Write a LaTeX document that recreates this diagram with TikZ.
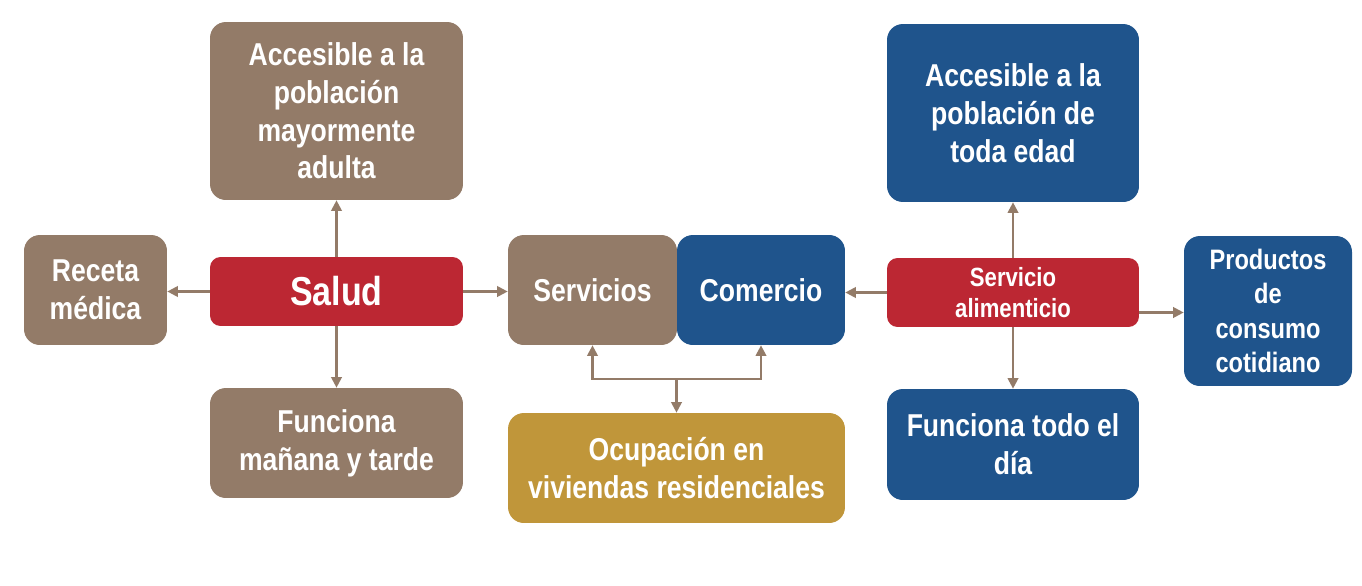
\documentclass[tikz,border=0pt]{standalone}
\usepackage{fontspec}
\setmainfont{Liberation Sans}[FakeStretch=0.84]
\usetikzlibrary{arrows.meta,positioning,calc}
\definecolor{cbrown}{HTML}{937B68}
\definecolor{cred}{HTML}{BC2733}
\definecolor{cblue}{HTML}{1F548C}
\definecolor{cgold}{HTML}{C0963A}
\tikzset{
  box/.style={rounded corners=9pt, text=white, font=\bfseries\fontsize{18}{21.5}\selectfont, align=center, inner sep=2pt},
  arr/.style={-{Triangle[length=6pt, width=6pt]}, cbrown, line width=1.2pt},
}

\begin{document}
\begin{tikzpicture}[x=0.02cm, y=-0.02cm]
\useasboundingbox (0,0) rectangle (1362,585);
% salud side
\node[box, fill=cbrown, minimum width=5.06cm, minimum height=3.56cm] (accA) at (336.5,111) {Accesible a la\\ población\\ mayormente\\ adulta};
\node[box, fill=cbrown, minimum width=2.86cm, minimum height=2.2cm] (receta) at (95.5,290) {Receta\\ médica};
\node[box, fill=cred, rounded corners=6pt, minimum width=5.06cm, minimum height=1.38cm, font=\bfseries\fontsize{23}{27}\selectfont] (salud) at (336.5,291.5) {Salud};
\node[box, fill=cbrown, minimum width=5.06cm, minimum height=2.2cm] (funcA) at (336.5,443) {Funciona\\ mañana y tarde};
% center
\node[box, fill=cbrown, minimum width=3.38cm, minimum height=2.2cm] (serv) at (592.5,290) {Servicios};
\node[box, fill=cblue, minimum width=3.36cm, minimum height=2.2cm] (comer) at (761,290) {Comercio};
\node[box, fill=cgold, minimum width=6.74cm, minimum height=2.2cm] (ocup) at (676.5,468) {Ocupación en\\ viviendas residenciales};
% alimenticio side
\node[box, fill=cblue, minimum width=5.04cm, minimum height=3.56cm] (accB) at (1013,113) {Accesible a la\\ población de\\ toda edad};
\node[box, fill=cred, rounded corners=6pt, minimum width=5.04cm, minimum height=1.38cm, font=\bfseries\fontsize{15}{18}\selectfont] (alim) at (1013,292.5) {Servicio\\ alimenticio};
\node[box, fill=cblue, minimum width=5.04cm, minimum height=2.22cm] (funcB) at (1013,444.5) {Funciona todo el\\ día};
\node[box, fill=cblue, minimum width=3.36cm, minimum height=3.0cm, font=\bfseries\fontsize{16}{19.5}\selectfont] (prod) at (1268,311) {Productos\\ de\\ consumo\\ cotidiano};
% connectors
\draw[arr] (salud.north) -- (accA.south);
\draw[arr] (salud.south) -- (funcA.north);
\draw[arr] (salud.west) -- (salud.west -| receta.east);
\draw[arr] (salud.east) -- (salud.east -| serv.west);
\draw[arr] (alim.north) -- (accB.south);
\draw[arr] (alim.south) -- (funcB.north);
\draw[arr] (alim.west) -- (alim.west -| comer.east);
\coordinate (aR) at ([yshift=-0.4cm]alim.east);
\draw[arr] (aR) -- (aR -| prod.west);
\coordinate (jn) at (676.5,379);
\draw[arr] (jn) -- (ocup.north);
\draw[arr] (jn) -| (serv.south);
\draw[arr] (jn) -| (comer.south);
\end{tikzpicture}
\end{document}
